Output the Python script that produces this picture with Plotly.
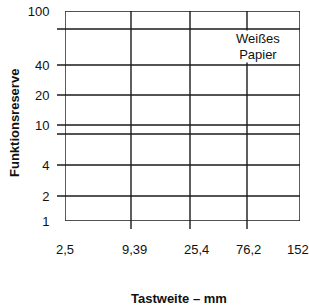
import plotly.graph_objects as go

# Y axis: label text and its position on the chart's (non-uniform) scale
y_labels = ["1", "2", "4", "10", "20", "40", "100"]
y_label_pos = [0, 25, 56, 96, 126, 156, 210]
# Horizontal grid lines (positions on same scale)
h_lines = [25, 56, 87, 96, 126, 156, 192]

# X axis: labels and their positions, vertical grid lines
x_labels = ["2,5", "9,39", "25,4", "76,2", "152"]
x_label_pos = [0, 69, 131, 183, 233]
v_lines = [66, 125, 182]

X_MAX, Y_MAX = 235, 210
FONT = "Liberation Sans, Arial, Helvetica, sans-serif"
LC = "#1a1a1a"
LW = 1.4

fig = go.Figure()
fig.add_trace(go.Scatter(x=[0, X_MAX], y=[0, Y_MAX], mode="markers",
                         marker=dict(opacity=0), hoverinfo="skip", showlegend=False))

shapes = []
for yv in h_lines:
    shapes.append(dict(type="line", xref="paper", yref="y", x0=-8 / X_MAX, x1=1,
                       y0=yv, y1=yv, line=dict(color=LC, width=LW)))
for xv in v_lines:
    shapes.append(dict(type="line", xref="x", yref="paper", x0=xv, x1=xv,
                       y0=-8 / Y_MAX, y1=1, line=dict(color=LC, width=LW)))
shapes.append(dict(type="rect", xref="x", yref="y", x0=0, x1=X_MAX, y0=0, y1=Y_MAX,
                   line=dict(color=LC, width=LW)))

annotations = []
for lab, xp in zip(x_labels, x_label_pos):
    annotations.append(dict(x=xp / X_MAX, y=-28 / Y_MAX, xref="paper", yref="paper", text=lab,
                            showarrow=False, xanchor="center", yanchor="middle",
                            font=dict(family=FONT, size=13, color="#111")))
annotations.append(dict(x=193 / X_MAX, y=(221 - 47) / Y_MAX, xref="paper", yref="paper",
                        text="Weißes<br>Papier", showarrow=False, bgcolor="white",
                        xanchor="center", yanchor="middle", borderpad=0, height=31,
                        font=dict(family=FONT, size=13, color="#111")))
annotations.append(dict(x=(14 - 65) / X_MAX, y=(221 - 123) / Y_MAX, xref="paper", yref="paper",
                        text="<b>Funktionsreserve</b>", showarrow=False, textangle=-90,
                        xanchor="center", yanchor="middle",
                        font=dict(family=FONT, size=13, color="#111")))
annotations.append(dict(x=(179 - 65) / X_MAX, y=(221 - 298) / Y_MAX, xref="paper", yref="paper",
                        text="<b>Tastweite – mm</b>", showarrow=False,
                        xanchor="center", yanchor="middle",
                        font=dict(family=FONT, size=13, color="#111")))

fig.update_layout(
    template="none",
    width=309, height=307,
    margin=dict(l=65, r=9, t=11, b=86, autoexpand=False),
    paper_bgcolor="white", plot_bgcolor="white",
    shapes=shapes, annotations=annotations,
    xaxis=dict(range=[0, X_MAX], showgrid=False, zeroline=False, showticklabels=False,
               ticks="", fixedrange=True, automargin=False, showline=False),
    yaxis=dict(range=[0, Y_MAX], showgrid=False, zeroline=False, tickmode="array",
               tickvals=y_label_pos, ticktext=y_labels, ticks="outside",
               tickcolor="rgba(0,0,0,0)", ticklen=12, automargin=False, showline=False,
               ticklabeloverflow="allow",
               tickfont=dict(family=FONT, size=13, color="#111"), fixedrange=True),
    showlegend=False,
)

fig.write_html(
    "out.html",
    config={"displayModeBar": False},
    post_script="document.body.style.margin='0';"
                "document.documentElement.style.overflow='hidden';",
)
